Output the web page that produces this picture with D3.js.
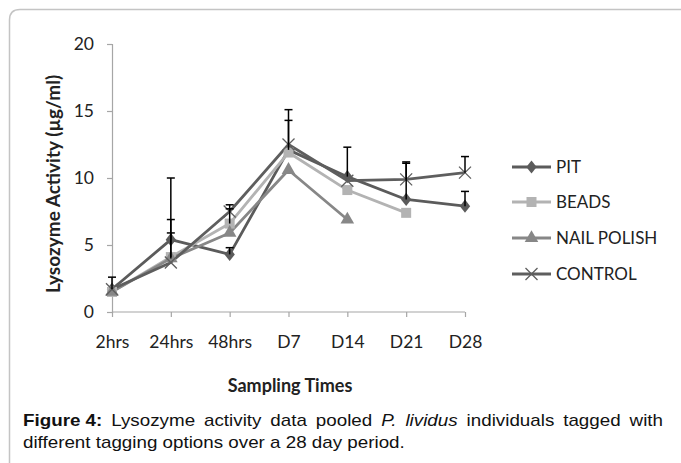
<!DOCTYPE html>
<html><head><meta charset="utf-8">
<script src="https://cdn.jsdelivr.net/npm/d3@7"></script>
<style>body{margin:0;background:#fff}svg{display:block}</style>
</head><body>
<svg id="c" width="681" height="463"></svg>
<script>
const categories = ["2hrs","24hrs","48hrs","D7","D14","D21","D28"];
const pit      = [1.7, 5.4, 4.3, 12.1, 10.1, 8.4, 7.9];
const beads    = [1.5, 4.1, 6.6, 11.9, 9.1, 7.4, null];
const nail     = [1.5, 4.0, 5.9, 10.6, 6.9, null, null];
const control  = [1.7, 3.7, 7.5, 12.5, 9.8, 9.9, 10.4];
// upper error bar end values
const pitErr     = [2.6, 10.0, 4.8, 14.3, 12.3, 11.1, 9.0];
const beadsErr   = [null, 6.9, 7.7, null, null, null, null];
const nailErr    = [null, 5.9, null, null, null, null, null];
const controlErr = [null, null, 8.0, 15.1, null, 11.2, 11.6];
const yTicks = [0, 5, 10, 15, 20];
const seriesNames = ["PIT","BEADS","NAIL POLISH","CONTROL"];

const series = [
  {name: seriesNames[0], vals: pit, err: pitErr, color: "#5b5b5b", marker: "diamond"},
  {name: seriesNames[1], vals: beads, err: beadsErr, color: "#b3b3b3", marker: "square"},
  {name: seriesNames[2], vals: nail, err: nailErr, color: "#878787", marker: "triangle"},
  {name: seriesNames[3], vals: control, err: controlErr, color: "#5e5e5e", marker: "x"}
];

const svg = d3.select("#c");
// frame
svg.append("path").attr("d","M9.5,463 L9.5,20 Q9.5,9.5 20,9.5 L681,9.5")
  .attr("fill","none").attr("stroke","#c4c4c4").attr("stroke-width",1.5);

const x = d3.scalePoint().domain(categories).range([112, 465]);
const y = d3.scaleLinear().domain([0, 20]).range([312, 44]);
const font = "Lato, 'Open Sans', sans-serif";

// y axis
const ya = svg.append("g").attr("transform","translate(112,0)")
  .call(d3.axisLeft(y).tickValues(yTicks).tickSize(5).tickPadding(13).tickFormat(d3.format("d")));
ya.select(".domain").attr("stroke","#a6a6a6").attr("stroke-width",1.2);
ya.selectAll(".tick line").attr("stroke","#a6a6a6").attr("stroke-width",1.2);
ya.selectAll("text").attr("font-family",font).attr("font-size",17.5).attr("fill","#222");

// x axis
const xa = svg.append("g").attr("transform","translate(0,312)")
  .call(d3.axisBottom(x).tickSize(5).tickSizeOuter(0).tickPadding(19));
xa.select(".domain").attr("stroke","#a6a6a6").attr("stroke-width",1.2).attr("d","M112,0H465");
xa.selectAll(".tick line").attr("stroke","#a6a6a6").attr("stroke-width",1.2);
xa.selectAll("text").attr("font-family",font).attr("font-size",17.5).attr("fill","#222");

// titles
svg.append("text").attr("x",290).attr("y",392).attr("text-anchor","middle")
  .attr("font-family",font).attr("font-weight","bold").attr("font-size",18).attr("fill","#222")
  .text("Sampling Times");
svg.append("text").attr("transform","translate(60,184) rotate(-90)").attr("text-anchor","middle")
  .attr("font-family",font).attr("font-weight","bold").attr("font-size",19).attr("fill","#222")
  .text("Lysozyme Activity (µg/ml)");

function drawMarker(g, type, cx, cy, color) {
  if (type === "diamond") {
    g.append("path").attr("d", d3.symbol(d3.symbolDiamond, 70)())
      .attr("transform",`translate(${cx},${cy}) scale(1.15,0.85)`).attr("fill",color);
  } else if (type === "square") {
    g.append("path").attr("d", d3.symbol(d3.symbolSquare, 100)())
      .attr("transform",`translate(${cx},${cy})`).attr("fill",color);
  } else if (type === "triangle") {
    g.append("path").attr("d", d3.symbol(d3.symbolTriangle, 80)())
      .attr("transform",`translate(${cx},${cy})`).attr("fill",color);
  } else {
    g.append("path").attr("d", `M${cx-6},${cy-6}L${cx+6},${cy+6}M${cx-6},${cy+6}L${cx+6},${cy-6}`)
      .attr("stroke",color).attr("stroke-width",1.3).attr("fill","none");
  }
}

const line = d3.line().defined(d => d.v != null).x(d => x(d.c)).y(d => y(d.v));
series.forEach(s => {
  const pts = categories.map((c,i) => ({c, v: s.vals[i]}));
  svg.append("path").datum(pts).attr("d", line).attr("fill","none")
    .attr("stroke", s.color).attr("stroke-width", 2.8).attr("stroke-linejoin","round");
});
series.forEach(s => {
  const g = svg.append("g");
  categories.forEach((c,i) => { if (s.vals[i] != null) drawMarker(g, s.marker, x(c), y(s.vals[i]), s.color); });
});
series.forEach(s => {
  const g = svg.append("g").attr("stroke","#000").attr("stroke-width",1.5);
  categories.forEach((c,i) => {
    if (s.err[i] != null && s.vals[i] != null) {
      const cx = x(c);
      g.append("line").attr("x1",cx).attr("x2",cx).attr("y1",y(s.vals[i])).attr("y2",y(s.err[i]));
      g.append("line").attr("x1",cx-4).attr("x2",cx+4).attr("y1",y(s.err[i])).attr("y2",y(s.err[i]));
    }
  });
});

// legend
const leg = svg.append("g");
const legY = [167, 202, 238, 274];
series.forEach((s,i) => {
  leg.append("line").attr("x1",512).attr("x2",551).attr("y1",legY[i]).attr("y2",legY[i])
    .attr("stroke",s.color).attr("stroke-width",2.8);
  drawMarker(leg, s.marker, 531.5, legY[i], s.color);
  leg.append("text").attr("x",556).attr("y",legY[i]+6).attr("font-family",font)
    .attr("font-size",17).attr("fill","#222").text(s.name);
});

// caption (horizontally stretched like the reference)
const capFont = "'Liberation Sans', Arial, sans-serif";
const cap = svg.append("g").attr("font-family",capFont).attr("font-size",17).attr("fill","#111");
const l2 = cap.append("text").attr("x",0).attr("y",448).text("different tagging options over a 28 day period.");
const k = 382 / l2.node().getComputedTextLength();
cap.attr("transform",`translate(23,0) scale(${k},1)`);
const line1 = [["Figure 4:", "bold", "normal"], ["Lysozyme","normal","normal"], ["activity","normal","normal"],
  ["data","normal","normal"], ["pooled","normal","normal"], ["P.","normal","italic"], ["lividus","normal","italic"],
  ["individuals","normal","normal"], ["tagged","normal","normal"], ["with","normal","normal"]];
const words = line1.map(w => cap.append("text").attr("y",426).attr("font-weight",w[1]).attr("font-style",w[2]).text(w[0]));
const widths = words.map(t => t.node().getComputedTextLength());
const gap = (640 / k - d3.sum(widths)) / (words.length - 1);
let cx = 0;
words.forEach((t,i) => { t.attr("x", cx); cx += widths[i] + gap; });
</script>
</body></html>
